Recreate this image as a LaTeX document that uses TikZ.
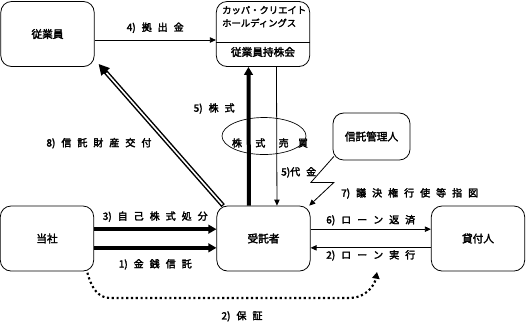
\documentclass[tikz,border=0pt]{standalone}
\usepackage{fontspec}
\setmainfont{Noto Sans CJK JP}[AutoFakeBold=2.5]
\usepackage{tikz}
\usetikzlibrary{shapes.geometric, arrows.meta, positioning}
\newcommand{\lblfont}{\bfseries\fontsize{7.5}{9}\selectfont\spaceskip 4.5pt\relax}
\tikzstyle{party}     = [rectangle, rounded corners=8pt, draw=black, line width=0.6pt,
                         minimum width=70pt, minimum height=48.75pt,
                         font=\bfseries\fontsize{8}{9}\selectfont]
\tikzstyle{deal}      = [ellipse, draw=black, line width=0.5pt,
                         minimum width=63pt, minimum height=27.75pt]
\tikzstyle{lbl}       = [inner sep=1pt, font=\lblfont]
\tikzstyle{flowline}  = [-{Triangle[length=4.5pt,width=4pt]}, line width=0.6pt]
\tikzstyle{heavyline} = [-{Triangle[length=6pt,width=6.5pt]}, line width=3pt]

\begin{document}
\begin{tikzpicture}[x=0.75pt, y=-0.75pt]
  \useasboundingbox (0,0) rectangle (528,330);

  \node[party] (emp) at (47.5,34) {従業員};
  \node[party] (kappa) at (263,34) {};
  \node[party] (company) at (47,238.5) {当社};
  \node[party] (trustee) at (263.5,238.5) {受託者};
  \node[party] (lender) at (478,238.5) {貸付人};
  \node[party, minimum width=57.75pt, minimum height=35.25pt] (admin) at (371.5,136.5) {信託管理人};
  \node[deal] (trade) at (264,136) {};
  \node[lbl] (tradetext) at (270,143) {株\hspace{10pt}式\hspace{10pt}売\hspace{7pt}買};

  % shareholding association box
  \node[anchor=north west, align=left, inner sep=0pt,
        font=\bfseries\fontsize{7}{9.75}\selectfont] (kappaname)
        at ([xshift=4.5pt,yshift=-3.5pt]kappa.north west) {カッパ・クリエイト\\ホールディングス};
  \draw[line width=0.5pt] ([yshift=-6pt]kappa.west) -- ([yshift=-6pt]kappa.east);
  \node[font=\bfseries\fontsize{8}{9}\selectfont] (kappaunit)
        at ([yshift=-13.5pt]kappa.center) {従業員持株会};

  \draw[flowline] ([yshift=-4.5pt]emp.east) -- ([yshift=-4.5pt]kappa.west)
        node[lbl, midway, above=4pt] {4) 拠 出 金};

  \draw[heavyline] ([xshift=-10.9pt]trustee.north) -- ([xshift=-10.9pt]kappa.south)
        node[lbl, pos=0.7, left=8pt] {5) 株 式};
  \draw[flowline] ([xshift=10.1pt]kappa.south) -- ([xshift=10.1pt]trustee.north)
        node[lbl, pos=0.76, right=2pt] {5)代 金};

  \draw[line width=3.4pt, -{Triangle[length=8pt,width=8pt]}]
        ([xshift=5pt]trustee.north west) -- ([shift={(3pt,2.25pt)}]emp.south east)
        node[lbl, pos=0.44, left=10pt] {8) 信 託 財 産 交 付};
  \draw[white, line width=1.2pt, shorten >=9pt, shorten <=1pt]
        ([xshift=5pt]trustee.north west) -- ([shift={(3pt,2.25pt)}]emp.south east);

  \draw[heavyline] ([yshift=7pt]company.east) -- ([yshift=7pt]trustee.west)
        node[lbl, midway, above=3pt] {3) 自 己 株 式 処 分};
  \draw[heavyline] ([yshift=-7pt]company.east) -- ([yshift=-7pt]trustee.west)
        node[lbl, midway, below=6pt] {1) 金 銭 信 託};

  \draw[flowline] ([yshift=7pt]trustee.east) -- ([yshift=7pt]lender.west)
        node[lbl, midway, above=1.5pt] {6) ロ ー ン 返 済};
  \draw[flowline] ([yshift=-7pt]lender.west) -- ([yshift=-7pt]trustee.east)
        node[lbl, midway, below=0.5pt] {2) ロ ー ン 実 行};

  % callout of the trust administrator
  \draw[flowline] ([xshift=1pt,yshift=3pt]admin.south west) -- ++(-23,26) -- ++(23,0)
        -- ([xshift=-1pt]trustee.north east);
  \node[lbl, anchor=west] (vote) at ([xshift=5.25pt,yshift=-24.75pt]admin.south west)
        {7) 議 決 権 行 使 等 指 図};

  % guarantee
  \coordinate (guar) at (377,272);
  \draw[line width=1.6pt, dotted, -{Triangle[length=5pt,width=5.5pt]}]
        ([xshift=-5pt,yshift=-1pt]company.south east) to[out=-75,in=180] (110,298)
        -- (350,298) node[lbl, pos=0.55, below=8pt] {2) 保 証}
        to[out=0,in=-100] (guar);
\end{tikzpicture}
\end{document}
